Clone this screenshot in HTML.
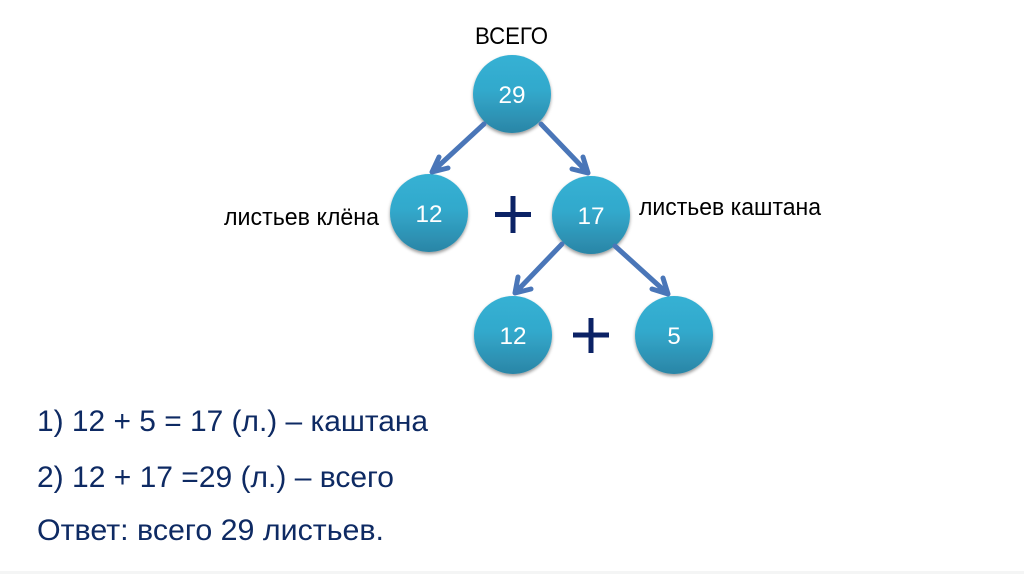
<!DOCTYPE html>
<html><head><meta charset="utf-8"><style>
html,body{margin:0;padding:0;background:#fff}
svg{display:block}
text{font-family:"Liberation Sans","DejaVu Sans",sans-serif}
</style></head><body>
<svg width="1024" height="574" viewBox="0 0 1024 574" xmlns="http://www.w3.org/2000/svg">
<defs>
<linearGradient id="g" x1="0" y1="0" x2="0" y2="1"><stop offset="0" stop-color="#35B1D4"/><stop offset="0.45" stop-color="#32A9CC"/><stop offset="1" stop-color="#2B85A6"/></linearGradient>
<filter id="s" x="-20%" y="-20%" width="140%" height="140%"><feDropShadow dx="0" dy="2" stdDeviation="1.6" flood-color="#000" flood-opacity=".4"/></filter>
</defs>
<rect width="1024" height="574" fill="#fff"/>
<rect x="0" y="571" width="1024" height="3" fill="#f4f5f5"/>
<g fill="url(#g)" filter="url(#s)">
<circle cx="512" cy="94" r="39"/>
<circle cx="429" cy="213" r="39"/>
<circle cx="591" cy="215" r="39"/>
<circle cx="513" cy="335" r="39"/>
<circle cx="674" cy="335" r="39"/>
</g>
<g stroke="#4A76B8" stroke-width="5" fill="none" stroke-linecap="round" stroke-linejoin="round">
<path d="M484 124L432 172M439 157L432 172L448 168"/>
<path d="M541 124L588 173M583 157L588 173L572 169"/>
<path d="M562 244L515 293M518 277L515 293L531 289"/>
<path d="M615 246L668 294M663 278L668 294L652 289"/>
</g>
<g fill="#0B2265">
<rect x="495" y="212" width="36" height="5"/><rect x="510.500" y="196" width="5" height="37"/>
<rect x="573" y="332.500" width="36" height="5"/><rect x="588.500" y="318" width="5" height="35"/>
</g>
<g fill="#fff" font-size="24" text-anchor="middle">
<text x="512" y="103" textLength="27" lengthAdjust="spacingAndGlyphs">29</text>
<text x="429" y="222" textLength="27" lengthAdjust="spacingAndGlyphs">12</text>
<text x="591" y="224" textLength="27" lengthAdjust="spacingAndGlyphs">17</text>
<text x="513" y="344" textLength="27" lengthAdjust="spacingAndGlyphs">12</text>
<text x="674" y="344">5</text>
</g>
<g fill="#000" font-size="24">
<text x="475" y="44" textLength="73" lengthAdjust="spacingAndGlyphs">ВСЕГО</text>
<text x="224" y="225" textLength="155" lengthAdjust="spacingAndGlyphs">листьев клёна</text>
<text x="639" y="215" textLength="182" lengthAdjust="spacingAndGlyphs">листьев каштана</text>
</g>
<g fill="#0E2A63" font-size="30">
<text x="37" y="431" textLength="391" lengthAdjust="spacingAndGlyphs">1) 12 + 5 = 17 (л.) – каштана</text>
<text x="37" y="487" textLength="357" lengthAdjust="spacingAndGlyphs">2) 12 + 17 =29 (л.) – всего</text>
<text x="37" y="540" textLength="347" lengthAdjust="spacingAndGlyphs">Ответ: всего 29 листьев.</text>
</g>
</svg>
</body></html>
